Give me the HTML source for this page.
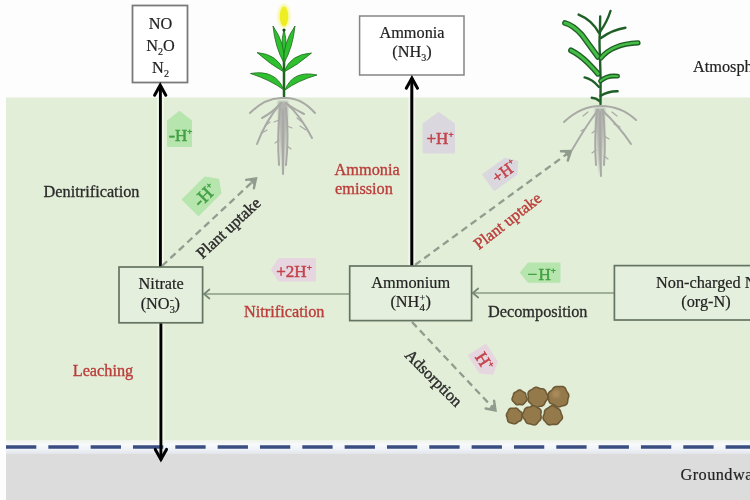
<!DOCTYPE html><html><head><meta charset="utf-8"><style>html,body{margin:0;padding:0;background:#fdfdfd;width:750px;height:500px;overflow:hidden}</style></head><body><svg width="750" height="500" viewBox="0 0 750 500" style="display:block;filter:blur(0.45px)">
<defs><filter id="bl" x="-20%" y="-20%" width="140%" height="140%"><feGaussianBlur stdDeviation="0.6"/></filter><filter id="bl2" x="-20%" y="-20%" width="140%" height="140%"><feGaussianBlur stdDeviation="1.0"/></filter></defs>
<rect width="750" height="500" fill="#fdfdfd"/>
<rect x="6" y="97.5" width="744" height="343" fill="#e2eed8"/>
<defs><linearGradient id="band" x1="0" y1="0" x2="0" y2="1"><stop offset="0" stop-color="#eef4ea"/><stop offset="0.3" stop-color="#f7f9fb"/><stop offset="0.7" stop-color="#eef2f7"/><stop offset="1" stop-color="#e3e6ec"/></linearGradient></defs>
<rect x="6" y="440.5" width="744" height="13" fill="url(#band)"/>
<rect x="6" y="453.5" width="744" height="46.5" fill="#dcdcdd"/>
<line x1="6" y1="447" x2="750" y2="447" stroke="#3a4d80" stroke-width="3.4" stroke-dasharray="30.3 12.03"/>
<rect x="132.5" y="5.5" width="55" height="77" fill="#fff" stroke="#7a7a7a" stroke-width="1.8"/>
<rect x="359.6" y="16" width="104.4" height="59" fill="#fff" stroke="#858585" stroke-width="1.5"/>
<text x="160.5" y="28.5" font-family='"Liberation Serif", serif' font-size="16.3" fill="#222" stroke="#222" stroke-width="0.2" text-anchor="middle" >NO</text>
<text x="160.5" y="50.5" font-family='"Liberation Serif", serif' font-size="16.3" fill="#222" stroke="#222" stroke-width="0.2" text-anchor="middle" >N<tspan font-size="10" dy="4">2</tspan><tspan dy="-4">O</tspan></text>
<text x="160.5" y="73" font-family='"Liberation Serif", serif' font-size="16.3" fill="#222" stroke="#222" stroke-width="0.2" text-anchor="middle" >N<tspan font-size="10" dy="4">2</tspan></text>
<text x="412" y="38" font-family='"Liberation Serif", serif' font-size="16.3" fill="#222" stroke="#222" stroke-width="0.2" text-anchor="middle" >Ammonia</text>
<text x="412" y="57" font-family='"Liberation Serif", serif' font-size="16.3" fill="#222" stroke="#222" stroke-width="0.2" text-anchor="middle" >(NH<tspan font-size="10" dy="4">3</tspan><tspan dy="-4">)</tspan></text>
<text x="693" y="72.4" font-family='"Liberation Serif", serif' font-size="16.3" fill="#222" stroke="#222" stroke-width="0.2" text-anchor="start" >Atmosphere</text>
<text x="680.5" y="480" font-family='"Liberation Serif", serif' font-size="16.3" fill="#222" stroke="#222" stroke-width="0.2" text-anchor="start" letter-spacing="0.45">Groundwater</text>
<line x1="160.5" y1="267" x2="160.5" y2="97.5" stroke="#f6fbf2" stroke-width="7" opacity="0.7"/>
<line x1="160.9" y1="323" x2="160.9" y2="441" stroke="#f6fbf2" stroke-width="7" opacity="0.7"/>
<line x1="411.8" y1="266" x2="411.8" y2="97.5" stroke="#f6fbf2" stroke-width="7" opacity="0.7"/>
<line x1="160.4" y1="267" x2="160.4" y2="85" stroke="#000" stroke-width="2.9"/>
<polyline points="154.6,95.3 160.2,85.2 165.8,95.3" fill="none" stroke="#000" stroke-width="3" stroke-linecap="round" stroke-linejoin="miter"/>
<line x1="160.9" y1="323" x2="160.9" y2="460" stroke="#000" stroke-width="2.9"/>
<polyline points="166.5,449.4 160.9,459.5 155.3,449.4" fill="none" stroke="#000" stroke-width="3" stroke-linecap="round" stroke-linejoin="miter"/>
<line x1="411.8" y1="266" x2="411.8" y2="78" stroke="#000" stroke-width="3"/>
<polyline points="406.3,88.3 411.9,78.2 417.5,88.3" fill="none" stroke="#000" stroke-width="3" stroke-linecap="round" stroke-linejoin="miter"/>
<line x1="349.7" y1="294" x2="203.5" y2="294" stroke="#8a9c86" stroke-width="1.7"/>
<polyline points="209.4,298.5 204,294 209.4,289.5" fill="none" stroke="#758873" stroke-width="1.7" stroke-linecap="round" stroke-linejoin="miter"/>
<line x1="614.4" y1="293" x2="472.6" y2="293" stroke="#8a9c86" stroke-width="1.7"/>
<polyline points="478.2,297.5 472.8,293 478.2,288.5" fill="none" stroke="#758873" stroke-width="1.7" stroke-linecap="round" stroke-linejoin="miter"/>
<line x1="162" y1="266" x2="256" y2="178.5" stroke="#909c8e" stroke-width="2.3" stroke-dasharray="7 4.5"/>
<polyline points="246.1,179.9 256,178.5 253.9,188.3" fill="none" stroke="#909c8e" stroke-width="2.4" stroke-linecap="round" stroke-linejoin="miter"/>
<polygon points="256,178.5 249.2,180.1 253.9,185.2" fill="#909c8e"/>
<line x1="415" y1="265" x2="571" y2="151" stroke="#909c8e" stroke-width="2.3" stroke-dasharray="7 4.5"/>
<polyline points="561.0,151.2 571,151 567.8,160.5" fill="none" stroke="#909c8e" stroke-width="2.4" stroke-linecap="round" stroke-linejoin="miter"/>
<polygon points="571,151 564.0,151.8 568.2,157.4" fill="#909c8e"/>
<line x1="412" y1="322" x2="495.5" y2="410.5" stroke="#909c8e" stroke-width="2.3" stroke-dasharray="7 4.5"/>
<polyline points="494.1,400.6 495.5,410.5 485.7,408.5" fill="none" stroke="#909c8e" stroke-width="2.4" stroke-linecap="round" stroke-linejoin="miter"/>
<polygon points="495.5,410.5 493.9,403.7 488.8,408.5" fill="#909c8e"/>
<rect x="119" y="267" width="83.6" height="55.8" fill="#e4efdd" stroke="#647462" stroke-width="1.7"/>
<rect x="349.7" y="266" width="121.9" height="54.6" fill="#e4efdd" stroke="#647462" stroke-width="1.7"/>
<rect x="614.4" y="265.6" width="200" height="54.4" fill="#e4efdd" stroke="#647462" stroke-width="1.7"/>
<text x="161.2" y="288.7" font-family='"Liberation Serif", serif' font-size="16.3" fill="#222" stroke="#222" stroke-width="0.2" text-anchor="middle" >Nitrate</text>
<text x="160.3" y="309" font-family='"Liberation Serif", serif' font-size="16.3" fill="#222" stroke="#222" stroke-width="0.2" text-anchor="middle" >(NO<tspan font-size="11" dy="4">3</tspan><tspan font-size="11" dx="-5" dy="-10">-</tspan><tspan dx="0.8" dy="6">)</tspan></text>
<text x="410.7" y="288" font-family='"Liberation Serif", serif' font-size="16.3" fill="#222" stroke="#222" stroke-width="0.2" text-anchor="middle" >Ammonium</text>
<text x="410.7" y="307" font-family='"Liberation Serif", serif' font-size="16.3" fill="#222" stroke="#222" stroke-width="0.2" text-anchor="middle" >(NH<tspan font-size="11" dy="4">4</tspan><tspan font-size="10" dx="-5.5" dy="-10">+</tspan><tspan dx="0.5" dy="6">)</tspan></text>
<text x="656" y="288" font-family='"Liberation Serif", serif' font-size="16.3" fill="#222" stroke="#222" stroke-width="0.2" text-anchor="start" >Non-charged N</text>
<text x="706" y="307" font-family='"Liberation Serif", serif' font-size="16.3" fill="#222" stroke="#222" stroke-width="0.2" text-anchor="middle" >(org-N)</text>
<text x="43.6" y="196.6" font-family='"Liberation Serif", serif' font-size="16.3" fill="#2b2b2b" stroke="#2b2b2b" stroke-width="0.3" text-anchor="start" >Denitrification</text>
<text x="334.6" y="175" font-family='"Liberation Serif", serif' font-size="16.3" fill="#bb3d3a" stroke="#bb3d3a" stroke-width="0.35" text-anchor="start" >Ammonia</text>
<text x="335" y="194.3" font-family='"Liberation Serif", serif' font-size="16.3" fill="#bb3d3a" stroke="#bb3d3a" stroke-width="0.35" text-anchor="start" >emission</text>
<text x="244" y="316.7" font-family='"Liberation Serif", serif' font-size="16.3" fill="#bb3d3a" stroke="#bb3d3a" stroke-width="0.35" text-anchor="start" >Nitrification</text>
<text x="488" y="316.5" font-family='"Liberation Serif", serif' font-size="16.3" fill="#2b2b2b" stroke="#2b2b2b" stroke-width="0.3" text-anchor="start" >Decomposition</text>
<text x="72.7" y="375.6" font-family='"Liberation Serif", serif' font-size="16.3" fill="#bb3d3a" stroke="#bb3d3a" stroke-width="0.35" text-anchor="start" >Leaching</text>
<text x="0" y="0" font-family='"Liberation Serif", serif' font-size="16.3" fill="#2b2b2b" stroke="#2b2b2b" stroke-width="0.4" transform="translate(202.5,259.5) rotate(-43)">Plant uptake</text>
<text x="0" y="0" font-family='"Liberation Serif", serif' font-size="16.3" fill="#bb3d3a" stroke="#bb3d3a" stroke-width="0.4" transform="translate(479,250) rotate(-38)">Plant uptake</text>
<text x="0" y="0" font-family='"Liberation Serif", serif' font-size="16.3" fill="#2b2b2b" stroke="#2b2b2b" stroke-width="0.4" transform="translate(404,356) rotate(45)">Adsorption</text>
<g filter="url(#bl)">
<path d="M526.8,397.8 L527.1,398.6 L527.1,399.4 L526.9,400.2 L526.5,400.9 L525.9,401.5 L525.4,402.0 L524.9,402.6 L524.4,403.2 L523.9,403.8 L523.3,404.3 L522.6,404.6 L521.8,404.7 L521.0,404.6 L520.3,404.4 L519.6,404.4 L518.9,404.4 L518.2,404.6 L517.4,404.7 L516.6,404.6 L515.9,404.3 L515.3,403.8 L514.8,403.2 L514.3,402.6 L513.8,402.0 L513.3,401.5 L512.7,400.9 L512.3,400.2 L512.1,399.4 L512.1,398.6 L512.4,397.8 L512.7,397.1 L513.0,396.4 L513.2,395.7 L513.3,395.0 L513.5,394.3 L513.7,393.5 L514.2,392.9 L514.8,392.5 L515.5,392.1 L516.1,391.8 L516.8,391.4 L517.4,391.0 L518.0,390.5 L518.8,390.1 L519.6,390.0 L520.4,390.1 L521.2,390.5 L521.8,391.0 L522.4,391.4 L523.1,391.8 L523.7,392.1 L524.4,392.5 L525.0,392.9 L525.5,393.5 L525.7,394.3 L525.9,395.0 L526.0,395.7 L526.2,396.4 L526.5,397.1Z" fill="#94794b" stroke="#6e5a35" stroke-width="1.6"/>
<path d="M548.0,397.2 L547.8,398.3 L547.3,399.3 L546.6,400.1 L546.0,400.9 L545.4,401.7 L545.0,402.6 L544.6,403.5 L544.1,404.5 L543.4,405.2 L542.6,405.8 L541.6,406.1 L540.6,406.3 L539.6,406.5 L538.6,406.8 L537.6,407.2 L536.5,407.5 L535.4,407.6 L534.3,407.3 L533.4,406.6 L532.7,405.8 L532.0,404.9 L531.4,404.1 L530.6,403.5 L529.9,402.8 L529.1,402.1 L528.6,401.2 L528.3,400.2 L528.3,399.2 L528.4,398.2 L528.4,397.2 L528.3,396.2 L528.1,395.2 L528.0,394.1 L528.1,393.0 L528.5,391.9 L529.2,391.1 L530.1,390.4 L531.0,389.9 L531.9,389.4 L532.8,388.8 L533.6,388.2 L534.5,387.7 L535.5,387.3 L536.6,387.3 L537.6,387.6 L538.6,388.0 L539.5,388.4 L540.4,388.6 L541.4,388.7 L542.5,388.8 L543.5,389.0 L544.5,389.6 L545.2,390.4 L545.7,391.3 L546.1,392.3 L546.5,393.2 L547.0,394.2 L547.5,395.1 L547.9,396.1Z" fill="#94794b" stroke="#6e5a35" stroke-width="1.6"/>
<path d="M568.7,396.6 L568.4,397.6 L568.0,398.6 L567.8,399.6 L567.7,400.6 L567.6,401.8 L567.3,402.9 L566.8,404.0 L565.9,404.8 L564.9,405.3 L563.8,405.6 L562.7,405.8 L561.7,406.1 L560.7,406.4 L559.7,406.8 L558.6,407.0 L557.5,406.9 L556.5,406.5 L555.6,405.9 L554.8,405.2 L553.9,404.7 L553.0,404.3 L551.9,404.0 L550.9,403.6 L549.9,402.9 L549.3,402.0 L548.9,400.9 L548.7,399.8 L548.6,398.7 L548.5,397.7 L548.3,396.6 L548.1,395.5 L548.1,394.4 L548.4,393.3 L549.1,392.4 L549.9,391.6 L550.8,391.0 L551.6,390.3 L552.3,389.6 L552.9,388.8 L553.6,387.9 L554.4,387.1 L555.4,386.7 L556.5,386.5 L557.5,386.5 L558.6,386.6 L559.6,386.6 L560.7,386.5 L561.9,386.5 L563.0,386.6 L564.1,387.1 L565.0,387.8 L565.6,388.8 L566.0,389.9 L566.4,390.9 L566.9,391.8 L567.5,392.6 L568.1,393.5 L568.6,394.5 L568.8,395.5Z" fill="#94794b" stroke="#6e5a35" stroke-width="1.6"/>
<path d="M522.1,415.8 L521.9,416.6 L521.8,417.4 L521.7,418.3 L521.6,419.1 L521.3,419.9 L520.7,420.5 L520.0,421.0 L519.2,421.3 L518.4,421.6 L517.8,422.0 L517.2,422.5 L516.5,423.0 L515.8,423.5 L515.0,423.8 L514.2,423.8 L513.4,423.7 L512.6,423.4 L511.8,423.1 L511.0,422.9 L510.2,422.7 L509.3,422.5 L508.6,422.0 L508.0,421.4 L507.7,420.5 L507.5,419.7 L507.4,418.8 L507.3,418.1 L507.0,417.3 L506.7,416.6 L506.5,415.8 L506.4,415.0 L506.6,414.2 L506.9,413.4 L507.3,412.7 L507.8,412.1 L508.1,411.4 L508.4,410.6 L508.7,409.7 L509.3,409.0 L510.0,408.5 L510.8,408.2 L511.7,408.2 L512.6,408.2 L513.4,408.3 L514.2,408.2 L515.0,408.2 L515.8,408.1 L516.6,408.3 L517.4,408.7 L518.0,409.2 L518.5,409.9 L519.0,410.4 L519.6,410.9 L520.3,411.4 L521.0,411.9 L521.7,412.5 L522.1,413.2 L522.3,414.1 L522.2,415.0Z" fill="#94794b" stroke="#6e5a35" stroke-width="1.6"/>
<path d="M540.8,415.2 L541.0,416.1 L541.1,417.1 L541.1,418.1 L540.8,419.0 L540.3,419.9 L539.6,420.6 L538.9,421.2 L538.2,421.9 L537.6,422.7 L537.0,423.5 L536.2,424.3 L535.3,424.8 L534.3,425.0 L533.2,424.8 L532.2,424.5 L531.3,424.2 L530.3,423.9 L529.4,423.7 L528.5,423.6 L527.5,423.3 L526.7,422.8 L526.1,422.0 L525.6,421.2 L525.2,420.3 L524.7,419.5 L524.1,418.8 L523.4,418.1 L522.8,417.2 L522.3,416.2 L522.2,415.2 L522.5,414.2 L522.9,413.2 L523.4,412.3 L523.8,411.5 L524.2,410.6 L524.5,409.6 L525.1,408.8 L525.8,408.1 L526.7,407.6 L527.7,407.4 L528.7,407.3 L529.6,407.1 L530.4,406.8 L531.3,406.3 L532.2,405.9 L533.2,405.7 L534.2,405.7 L535.2,406.1 L536.0,406.6 L536.8,407.2 L537.6,407.7 L538.5,408.2 L539.4,408.7 L540.2,409.4 L540.8,410.2 L541.1,411.2 L541.1,412.3 L540.9,413.3 L540.8,414.3Z" fill="#94794b" stroke="#6e5a35" stroke-width="1.6"/>
<path d="M562.1,415.8 L562.4,416.8 L562.4,417.9 L562.1,418.9 L561.4,419.7 L560.7,420.5 L560.0,421.2 L559.4,421.9 L558.8,422.7 L558.2,423.5 L557.4,424.1 L556.4,424.4 L555.4,424.5 L554.4,424.4 L553.5,424.3 L552.6,424.4 L551.7,424.5 L550.7,424.8 L549.7,424.9 L548.6,424.7 L547.7,424.3 L547.0,423.6 L546.3,422.8 L545.7,422.0 L545.1,421.3 L544.4,420.6 L543.7,419.8 L543.2,418.8 L543.0,417.8 L543.2,416.8 L543.5,415.8 L543.9,414.9 L544.2,414.0 L544.4,413.1 L544.4,412.2 L544.6,411.2 L545.0,410.2 L545.6,409.5 L546.4,408.9 L547.2,408.4 L548.1,408.0 L548.9,407.4 L549.7,406.8 L550.6,406.2 L551.6,405.8 L552.6,405.8 L553.6,406.0 L554.6,406.6 L555.4,407.2 L556.2,407.7 L557.0,408.1 L557.9,408.5 L558.8,408.9 L559.5,409.5 L560.1,410.3 L560.5,411.3 L560.7,412.2 L560.9,413.1 L561.2,414.0 L561.7,414.8Z" fill="#94794b" stroke="#6e5a35" stroke-width="1.6"/>
</g>
<circle cx="556" cy="394" r="4" fill="#a98a5c" filter="url(#bl2)"/>
<ellipse cx="284" cy="16" rx="6.5" ry="12" fill="#f8f8a8" filter="url(#bl2)"/>
<ellipse cx="284" cy="16.5" rx="4.2" ry="10" fill="#eeee22"/>
<line x1="284" y1="60" x2="284" y2="97" stroke="#1b661b" stroke-width="2.5"/>
<path d="M284.0,64.0 Q288.5,48.2 284.0,29.0 Q279.5,48.2 284.0,64.0Z" fill="#2ec02e" stroke="#1f6a1f" stroke-width="0.8" stroke-linejoin="round"/>
<path d="M284.0,63.0 Q285.8,44.4 273.0,26.0 Q275.2,47.5 284.0,63.0Z" fill="#2ec02e" stroke="#1f6a1f" stroke-width="0.8" stroke-linejoin="round"/>
<path d="M284.0,63.0 Q292.8,47.5 295.0,26.0 Q282.2,44.4 284.0,63.0Z" fill="#2ec02e" stroke="#1f6a1f" stroke-width="0.8" stroke-linejoin="round"/>
<path d="M284.0,72.0 Q278.3,54.3 257.0,52.5 Q270.7,64.8 284.0,72.0Z" fill="#2ec02e" stroke="#1f6a1f" stroke-width="0.8" stroke-linejoin="round"/>
<path d="M284.0,72.0 Q297.5,65.1 311.5,53.0 Q290.1,54.4 284.0,72.0Z" fill="#2ec02e" stroke="#1f6a1f" stroke-width="0.8" stroke-linejoin="round"/>
<path d="M284.0,90.0 Q275.6,69.1 250.5,73.5 Q270.3,79.9 284.0,90.0Z" fill="#2ec02e" stroke="#1f6a1f" stroke-width="0.8" stroke-linejoin="round"/>
<path d="M285.0,90.0 Q298.1,80.5 317.0,75.0 Q293.0,69.7 285.0,90.0Z" fill="#2ec02e" stroke="#1f6a1f" stroke-width="0.8" stroke-linejoin="round"/>
<circle cx="284" cy="30" r="1.6" fill="#1b4a1b"/>
<path d="M278,101 Q279.0,135.5 283,174 Q287.0,135.5 288,101 Z" fill="#b2b3af" filter="url(#bl2)"/>
<g filter="url(#bl)"><path d="M283,98 Q266,97 250,113" fill="none" stroke="#a9aaa6" stroke-width="2.0" stroke-linecap="round"/><path d="M284,98 Q301,97 315,113" fill="none" stroke="#a9aaa6" stroke-width="2.0" stroke-linecap="round"/><path d="M281,103 Q266,120 257,144" fill="none" stroke="#a9aaa6" stroke-width="2.0" stroke-linecap="round"/><path d="M286,103 Q301,116 312,138" fill="none" stroke="#a9aaa6" stroke-width="2.0" stroke-linecap="round"/><path d="M280,104 Q273,112 262,118" fill="none" stroke="#a9aaa6" stroke-width="2.0" stroke-linecap="round"/><path d="M287,104 Q296,110 304,114" fill="none" stroke="#a9aaa6" stroke-width="2.0" stroke-linecap="round"/><path d="M280,108 Q277,135 279,165" fill="none" stroke="#a9aaa6" stroke-width="2.0" stroke-linecap="round"/><path d="M286,108 Q289,135 286,165" fill="none" stroke="#a9aaa6" stroke-width="2.0" stroke-linecap="round"/><path d="M283,110 Q283,140 283,174" fill="none" stroke="#a9aaa6" stroke-width="2.0" stroke-linecap="round"/></g>
<g filter="url(#bl)"><path d="M270,122 L265,126" fill="none" stroke="#a9aaa6" stroke-width="1.2" stroke-linecap="round"/><path d="M267,130 L262,133" fill="none" stroke="#a9aaa6" stroke-width="1.2" stroke-linecap="round"/><path d="M297,118 L302,122" fill="none" stroke="#a9aaa6" stroke-width="1.2" stroke-linecap="round"/><path d="M300,126 L306,130" fill="none" stroke="#a9aaa6" stroke-width="1.2" stroke-linecap="round"/><path d="M279,120 L274,122" fill="none" stroke="#a9aaa6" stroke-width="1.2" stroke-linecap="round"/><path d="M287,126 L292,128" fill="none" stroke="#a9aaa6" stroke-width="1.2" stroke-linecap="round"/><path d="M279,140 L275,143" fill="none" stroke="#a9aaa6" stroke-width="1.2" stroke-linecap="round"/><path d="M287,146 L291,149" fill="none" stroke="#a9aaa6" stroke-width="1.2" stroke-linecap="round"/></g>
<path d="M600.5,104 Q601,80 600,57 Q599,40 600,32 Q600,24 600.2,16.5" fill="none" stroke="#1f5f27" stroke-width="2.4" stroke-linecap="round" stroke-linejoin="round"/>
<path d="M599,33 Q592,20 578.6,14.6" fill="none" stroke="#1f5f27" stroke-width="2.4" stroke-linecap="round" stroke-linejoin="round"/>
<path d="M600.5,31 Q607,22 610.5,11" fill="none" stroke="#1f5f27" stroke-width="2.4" stroke-linecap="round" stroke-linejoin="round"/>
<path d="M601,38 Q612,30 625.4,27.8" fill="none" stroke="#1f5f27" stroke-width="2.4" stroke-linecap="round" stroke-linejoin="round"/>
<path d="M600.5,96 Q608,91 617.6,91.2" fill="none" stroke="#1f5f27" stroke-width="2.4" stroke-linecap="round" stroke-linejoin="round"/>
<path d="M599,87 Q592,79 584.6,77.4" fill="none" stroke="#1f5f27" stroke-width="2.4" stroke-linecap="round" stroke-linejoin="round"/>
<path d="M599.5,101 Q596,98 591.8,97.8" fill="none" stroke="#1f5f27" stroke-width="2.4" stroke-linecap="round" stroke-linejoin="round"/>
<path d="M565,23 Q573,25 582,35 Q590,46 598,57" fill="none" stroke="#1f5f27" stroke-width="5.800000000000001" stroke-linecap="round" stroke-linejoin="round"/>
<path d="M565,23 Q573,25 582,35 Q590,46 598,57" fill="none" stroke="#45bd45" stroke-width="3.0" stroke-linecap="round" stroke-linejoin="round"/>
<path d="M571,50.4 Q580,55 588,63 Q594,69 598,73.8" fill="none" stroke="#1f5f27" stroke-width="5.800000000000001" stroke-linecap="round" stroke-linejoin="round"/>
<path d="M571,50.4 Q580,55 588,63 Q594,69 598,73.8" fill="none" stroke="#45bd45" stroke-width="3.0" stroke-linecap="round" stroke-linejoin="round"/>
<path d="M601,58 Q612,44 638,42.8" fill="none" stroke="#1f5f27" stroke-width="5.2" stroke-linecap="round" stroke-linejoin="round"/>
<path d="M601,58 Q612,44 638,42.8" fill="none" stroke="#45bd45" stroke-width="2.4000000000000004" stroke-linecap="round" stroke-linejoin="round"/>
<path d="M600.5,81 Q607,75 617.6,76.2" fill="none" stroke="#1f5f27" stroke-width="4.800000000000001" stroke-linecap="round" stroke-linejoin="round"/>
<path d="M600.5,81 Q607,75 617.6,76.2" fill="none" stroke="#45bd45" stroke-width="2.0" stroke-linecap="round" stroke-linejoin="round"/>
<path d="M595,108 Q596.0,140.0 600,176 Q604.0,140.0 605,108 Z" fill="#b2b3af" filter="url(#bl2)"/>
<g filter="url(#bl)"><path d="M600,106 Q581,106 564,122" fill="none" stroke="#a9aaa6" stroke-width="2.0" stroke-linecap="round"/><path d="M601,106 Q621,106 636,120" fill="none" stroke="#a9aaa6" stroke-width="2.0" stroke-linecap="round"/><path d="M602,110 Q619,126 631,144" fill="none" stroke="#a9aaa6" stroke-width="2.0" stroke-linecap="round"/><path d="M598,110 Q586,126 572,150" fill="none" stroke="#a9aaa6" stroke-width="2.0" stroke-linecap="round"/><path d="M597,110 Q594,140 596,165" fill="none" stroke="#a9aaa6" stroke-width="2.0" stroke-linecap="round"/><path d="M603,110 Q606,140 604,165" fill="none" stroke="#a9aaa6" stroke-width="2.0" stroke-linecap="round"/><path d="M600,112 Q600,145 601,176" fill="none" stroke="#a9aaa6" stroke-width="2.0" stroke-linecap="round"/></g>
<g filter="url(#bl)"><path d="M588,112 L583,116" fill="none" stroke="#a9aaa6" stroke-width="1.2" stroke-linecap="round"/><path d="M612,112 L617,116" fill="none" stroke="#a9aaa6" stroke-width="1.2" stroke-linecap="round"/><path d="M614,124 L620,127" fill="none" stroke="#a9aaa6" stroke-width="1.2" stroke-linecap="round"/><path d="M586,128 L581,131" fill="none" stroke="#a9aaa6" stroke-width="1.2" stroke-linecap="round"/><path d="M596,130 L592,133" fill="none" stroke="#a9aaa6" stroke-width="1.2" stroke-linecap="round"/><path d="M604,136 L609,139" fill="none" stroke="#a9aaa6" stroke-width="1.2" stroke-linecap="round"/><path d="M596,150 L592,153" fill="none" stroke="#a9aaa6" stroke-width="1.2" stroke-linecap="round"/><path d="M604,156 L608,159" fill="none" stroke="#a9aaa6" stroke-width="1.2" stroke-linecap="round"/></g>
<polygon points="168.0,121.0 179.5,112.0 191.0,121.0 191.0,146.0 168.0,146.0" fill="#b6e5ad" stroke="#b6e5ad" stroke-width="2" stroke-linejoin="round" />
<text x="180.5" y="140.5" font-family='"Liberation Serif", serif' font-size="17" fill="#43a043" stroke="#43a043" stroke-width="0.5" text-anchor="middle" ><tspan font-size="19">-</tspan>H<tspan font-size="9" dy="-7">+</tspan></text>
<polygon points="423.7,124.0 438.6,113.0 454.0,124.0 454.0,152.4 423.7,152.4" fill="#dad8de" stroke="#dad8de" stroke-width="2" stroke-linejoin="round" />
<text x="440" y="144" font-family='"Liberation Serif", serif' font-size="17" fill="#c4434b" stroke="#c4434b" stroke-width="0.5" text-anchor="middle" >+H<tspan font-size="9" dy="-7">+</tspan></text>
<polygon points="272.0,269.5 279.0,259.0 315.0,259.0 315.0,280.5 279.0,280.5" fill="#e6d6e0" stroke="#e6d6e0" stroke-width="2" stroke-linejoin="round" />
<text x="294" y="277" font-family='"Liberation Serif", serif' font-size="17" fill="#c4434b" stroke="#c4434b" stroke-width="0.5" text-anchor="middle" >+2H<tspan font-size="9" dy="-7">+</tspan></text>
<polygon points="521.0,272.6 528.5,263.5 559.5,263.5 559.5,281.8 528.5,281.8" fill="#b6e5ad" stroke="#b6e5ad" stroke-width="2" stroke-linejoin="round" />
<text x="527.6" y="280" font-family='"Liberation Serif", serif' font-size="17" fill="#43a043" stroke="#43a043" stroke-width="0.5" text-anchor="start" >−<tspan dx="1.2">H</tspan><tspan font-size="9" dy="-7">+</tspan></text>
<g transform="translate(204.5,193.5) rotate(-45)"><polygon points="-19.5,-11.0 11.5,-11.0 19.5,0.0 11.5,11.0 -19.5,11.0" fill="#b6e5ad" stroke="#b6e5ad" stroke-width="2" stroke-linejoin="round" /><text x="-1" y="7.5" font-family='"Liberation Serif", serif' font-size="18.5" fill="#43a043" stroke="#43a043" stroke-width="0.5" text-anchor="middle"><tspan font-size="19">-</tspan>H<tspan font-size="9" dy="-7">+</tspan></text></g>
<g transform="translate(503,172) rotate(-36)"><polygon points="-17.5,-9.5 9.5,-9.5 17.5,0.0 9.5,9.5 -17.5,9.5" fill="#dad8de" stroke="#dad8de" stroke-width="2" stroke-linejoin="round" /><text x="1.5" y="6" font-family='"Liberation Serif", serif' font-size="16.5" fill="#c4434b" stroke="#c4434b" stroke-width="0.5" text-anchor="middle">+H<tspan font-size="9" dy="-7">+</tspan></text></g>
<g transform="translate(485,362) rotate(57)"><polygon points="-14.0,-10.0 6.0,-10.0 14.0,0.0 6.0,10.0 -14.0,10.0" fill="#e6d6e0" stroke="#e6d6e0" stroke-width="2" stroke-linejoin="round" /><text x="-1" y="6" font-family='"Liberation Serif", serif' font-size="17.5" fill="#c4434b" stroke="#c4434b" stroke-width="0.5" text-anchor="middle">H<tspan font-size="9" dy="-7">+</tspan></text></g>
</svg></body></html>
